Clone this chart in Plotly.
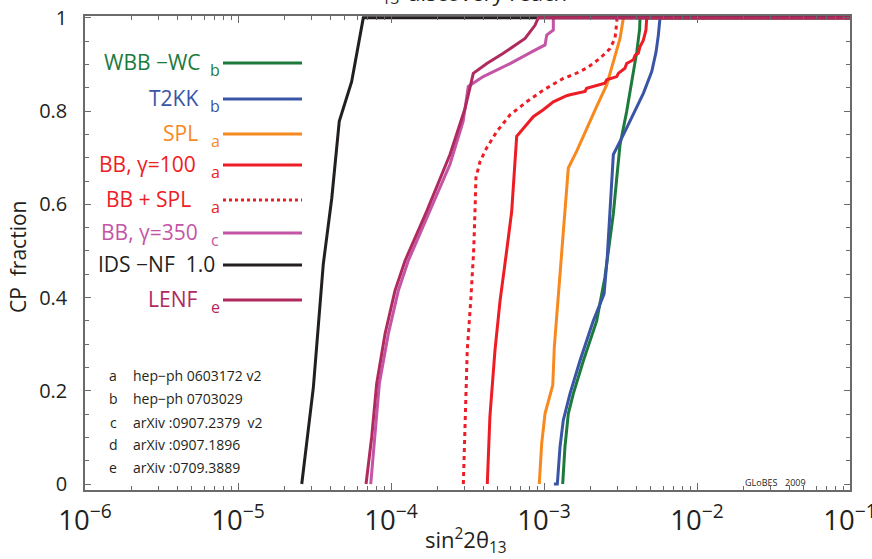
import plotly.graph_objects as go

# ---------------- data ----------------
wbb_x = [1.325e-3, 1.371e-3, 1.442e-3, 1.555e-3, 1.81e-3, 2.21e-3, 2.50e-3, 2.70e-3, 2.84e-3,
         2.99e-3, 3.14e-3, 3.47e-3, 3.80e-3, 4.04e-3, 4.22e-3, 4.24e-3, 0.1]
wbb_y = [0, 0.08, 0.151, 0.194, 0.265, 0.35, 0.443, 0.521, 0.58, 0.657, 0.728, 0.799, 0.871,
         0.927, 0.977, 1, 1]

t2kk_x = [1.161e-3, 1.222e-3, 1.273e-3, 1.337e-3, 1.479e-3, 1.72e-3, 2.10e-3, 2.47e-3, 2.59e-3,
          2.70e-3, 2.84e-3, 3.30e-3, 3.74e-3, 4.46e-3, 5.06e-3, 5.40e-3, 5.59e-3, 5.73e-3, 0.1]
t2kk_y = [0, 0, 0.08, 0.137, 0.194, 0.265, 0.35, 0.408, 0.486, 0.58, 0.707, 0.749, 0.785, 0.838,
          0.885, 0.927, 0.963, 1, 1]

spl_x = [9.31e-4, 9.66e-4, 1.016e-3, 1.084e-3, 1.141e-3, 1.168e-3, 1.24e-3, 1.306e-3, 1.371e-3,
         1.442e-3, 1.636e-3, 1.90e-3, 2.21e-3, 2.57e-3, 2.91e-3, 3.14e-3, 3.27e-3, 3.30e-3, 0.1]
spl_y = [0, 0.087, 0.151, 0.187, 0.212, 0.294, 0.4, 0.507, 0.585, 0.678, 0.714, 0.763, 0.81,
         0.856, 0.92, 0.956, 0.991, 1, 1]

bb100_x = [4.26e-4, 4.43e-4, 4.78e-4, 5.16e-4, 5.70e-4, 6.15e-4, 6.63e-4, 7.33e-4, 8.51e-4,
           9.89e-4, 1.151e-3, 1.406e-3, 1.479e-3, 1.854e-3, 1.90e-3, 2.50e-3, 2.57e-3, 2.99e-3,
           3.06e-3, 3.38e-3, 3.47e-3, 3.84e-3, 3.94e-3, 4.13e-3, 4.24e-3, 4.46e-3, 4.64e-3,
           4.69e-3, 0.1]
bb100_y = [0, 0.144, 0.286, 0.393, 0.5, 0.585, 0.746, 0.763, 0.788, 0.803, 0.82, 0.833, 0.835,
           0.842, 0.849, 0.86, 0.867, 0.874, 0.881, 0.892, 0.902, 0.910, 0.920, 0.924, 0.938,
           0.952, 0.974, 1, 1]

bbspl_x = [2.97e-4, 3.05e-4, 3.15e-4, 3.32e-4, 3.47e-4, 3.54e-4, 3.59e-4, 3.82e-4, 4.22e-4,
           4.91e-4, 6.0e-4, 7.71e-4, 9.89e-4, 1.336e-3, 1.553e-3, 1.90e-3, 2.32e-3, 2.70e-3,
           2.91e-3, 2.99e-3, 3.0e-3, 0.1]
bbspl_y = [0, 0.144, 0.286, 0.393, 0.5, 0.585, 0.657, 0.692, 0.721, 0.756, 0.792, 0.82, 0.845,
           0.87, 0.878, 0.892, 0.913, 0.934, 0.956, 0.991, 1, 1]

bb350_x = [7.37e-5, 7.86e-5, 8.39e-5, 9.60e-5, 1.117e-4, 1.297e-4, 1.80e-4, 2.43e-4, 2.96e-4,
           3.20e-4, 4.01e-4, 6.0e-4, 8.31e-4, 1.016e-3, 1.042e-3, 1.151e-3, 1.151e-3, 0.1]
bb350_y = [0, 0.101, 0.215, 0.322, 0.415, 0.479, 0.585, 0.686, 0.778, 0.853, 0.874, 0.902,
           0.927, 0.942, 0.963, 0.974, 1, 1]

ids_x = [2.61e-5, 3.11e-5, 3.61e-5, 4.10e-5, 4.59e-5, 5.53e-5, 6.59e-5, 0.1]
ids_y = [0, 0.208, 0.472, 0.613, 0.778, 0.863, 1, 1]

lenf_x = [6.87e-5, 7.48e-5, 8.06e-5, 9.14e-5, 1.062e-4, 1.235e-4, 1.71e-4, 2.43e-4, 3.05e-4,
          3.45e-4, 4.23e-4, 5.42e-4, 7.52e-4, 8.73e-4, 9.18e-4, 0.1]
lenf_y = [0, 0.101, 0.215, 0.322, 0.415, 0.479, 0.585, 0.707, 0.806, 0.881, 0.902, 0.924,
          0.956, 0.984, 1, 1]

series_names = ["WBB \u2212WC", "T2KK", "SPL", "BB, \u03b3=100", "BB + SPL", "BB, \u03b3=350",
                "IDS \u2212NF  1.0", "LENF"]
series_refs = ["b", "b", "a", "a", "a", "c", "", "e"]
series_x = [wbb_x, t2kk_x, spl_x, bb100_x, bbspl_x, bb350_x, ids_x, lenf_x]
series_y = [wbb_y, t2kk_y, spl_y, bb100_y, bbspl_y, bb350_y, ids_y, lenf_y]
series_colors = ["#1C7A3D", "#3A54A6", "#F7891F", "#EE1C25", "#EE1C25", "#C455A6", "#231F20",
                 "#B02A5E"]
series_dash = ["solid", "solid", "solid", "solid", "4px,4px", "solid", "solid", "solid"]

ref_letters = ["a", "b", "c", "d", "e"]
ref_texts = ["hep\u2212ph 0603172 v2", "hep\u2212ph 0703029", "arXiv :0907.2379  v2",
             "arXiv :0907.1896", "arXiv :0709.3889"]

# ---------------- layout helpers ----------------
W, H = 872, 559
L, R, T, B = 85, 850, 16, 490
FONT = "Open Sans"


def px(x):
    return (x - L) / (R - L)


def py(y):
    return (B - y) / (B - T)


fig = go.Figure()
for name, xs, ys, col, dash in zip(series_names, series_x, series_y, series_colors, series_dash):
    fig.add_trace(go.Scatter(x=xs, y=ys, mode="lines", name=name,
                             line=dict(color=col, width=3, dash=dash), showlegend=False))

annotations = []
shapes = []
leg_y = [63, 99, 134, 165, 200, 233, 265, 300]
leg_right = [203, 200, 200, 198, 193, 200, 217, 199]
for name, ref, col, dash, yy, xr in zip(series_names, series_refs, series_colors, series_dash,
                                         leg_y, leg_right):
    annotations.append(dict(x=px(xr), y=py(yy - 1), xref="paper", yref="paper", text=name,
                            showarrow=False, xanchor="right", yanchor="middle",
                            font=dict(family=FONT, size=21, color=col)))
    if ref:
        annotations.append(dict(x=px(215), y=py(yy + 7), xref="paper", yref="paper", text=ref,
                                showarrow=False, xanchor="center", yanchor="middle",
                                font=dict(family=FONT, size=16, color=col)))
    shapes.append(dict(type="line", xref="paper", yref="paper", x0=px(223), x1=px(302),
                       y0=py(yy), y1=py(yy), line=dict(color=col, width=3,
                                                         dash="dot" if dash != "solid" else "solid")))

ref_y = [375, 398, 422, 444, 467]
for letter, txt, yy in zip(ref_letters, ref_texts, ref_y):
    annotations.append(dict(x=px(113), y=py(yy), xref="paper", yref="paper", text=letter,
                            showarrow=False, xanchor="center", yanchor="middle",
                            font=dict(family=FONT, size=14, color="#231F20")))
    annotations.append(dict(x=px(131), y=py(yy), xref="paper", yref="paper", text=txt,
                            showarrow=False, xanchor="left", yanchor="middle",
                            font=dict(family=FONT, size=14, color="#231F20")))

annotations.append(dict(x=px(743), y=py(482), xref="paper", yref="paper", text="GLoBES",
                        showarrow=False, xanchor="left", yanchor="middle",
                        font=dict(family=FONT, size=9, color="#231F20")))
annotations.append(dict(x=px(808), y=py(482), xref="paper", yref="paper", text="2009",
                        showarrow=False, xanchor="right", yanchor="middle",
                        font=dict(family=FONT, size=9, color="#231F20")))

# axis titles
annotations.append(dict(x=px(18), y=py(257), xref="paper", yref="paper", text="CP  fraction",
                        showarrow=False, textangle=-90, xanchor="center", yanchor="middle",
                        font=dict(family=FONT, size=21, color="#231F20")))
annotations.append(dict(x=px(466), y=py(540), xref="paper", yref="paper",
                        text="sin<sup>2</sup>2\u03b8<sub>13</sub>",
                        showarrow=False, xanchor="center", yanchor="middle",
                        font=dict(family=FONT, size=22, color="#231F20")))
# partially hidden title at the top (only its lower edge is visible)
annotations.append(dict(x=px(401), y=py(-8), xref="paper", yref="paper",
                        text="sin<sup>2</sup> 2\u03b8<sub>13</sub>",
                        showarrow=False, xanchor="right", yanchor="middle",
                        font=dict(family=FONT, size=22, color="#231F20")))
annotations.append(dict(x=px(405), y=py(-8), xref="paper", yref="paper",
                        text="discovery reach",
                        showarrow=False, xanchor="left", yanchor="middle",
                        font=dict(family=FONT, size=22, color="#231F20")))

axis_col = "#6a6a6a"
fig.update_layout(
    width=W, height=H,
    margin=dict(l=L, r=W - R, t=T, b=H - B, pad=0),
    paper_bgcolor="white", plot_bgcolor="white",
    font=dict(family=FONT, color="#231F20"),
    annotations=annotations, shapes=shapes,
    xaxis=dict(type="log", range=[-6, -1], showgrid=False, zeroline=False, automargin=False,
               showline=True, linecolor=axis_col, linewidth=1.5, mirror="ticks",
               ticks="inside", ticklen=7, tickcolor=axis_col, tickwidth=1,
               dtick=1, exponentformat="power", showexponent="all",
               ticklabeloverflow="allow",
               tickfont=dict(family=FONT, size=22, color="#231F20"),
               ticklabelstandoff=6,
               minor=dict(ticks="inside", ticklen=4, tickcolor=axis_col, dtick="D1",
                          showgrid=False)),
    yaxis=dict(range=[-0.0128, 1.004], showgrid=False, zeroline=False, automargin=False,
               showline=True, linecolor=axis_col, linewidth=1.5, mirror="ticks",
               ticks="inside", ticklen=6, tickcolor=axis_col, tickwidth=1,
               tickvals=[0, 0.2, 0.4, 0.6, 0.8, 1], ticktext=["0", "0.2", "0.4", "0.6", "0.8", "1"],
               ticklabeloverflow="allow",
               tickfont=dict(family=FONT, size=20, color="#231F20"),
               ticklabelstandoff=12,
               minor=dict(ticks="inside", ticklen=4, tickcolor=axis_col, dtick=0.05,
                          showgrid=False)),
)

fig.write_html("out.html")
